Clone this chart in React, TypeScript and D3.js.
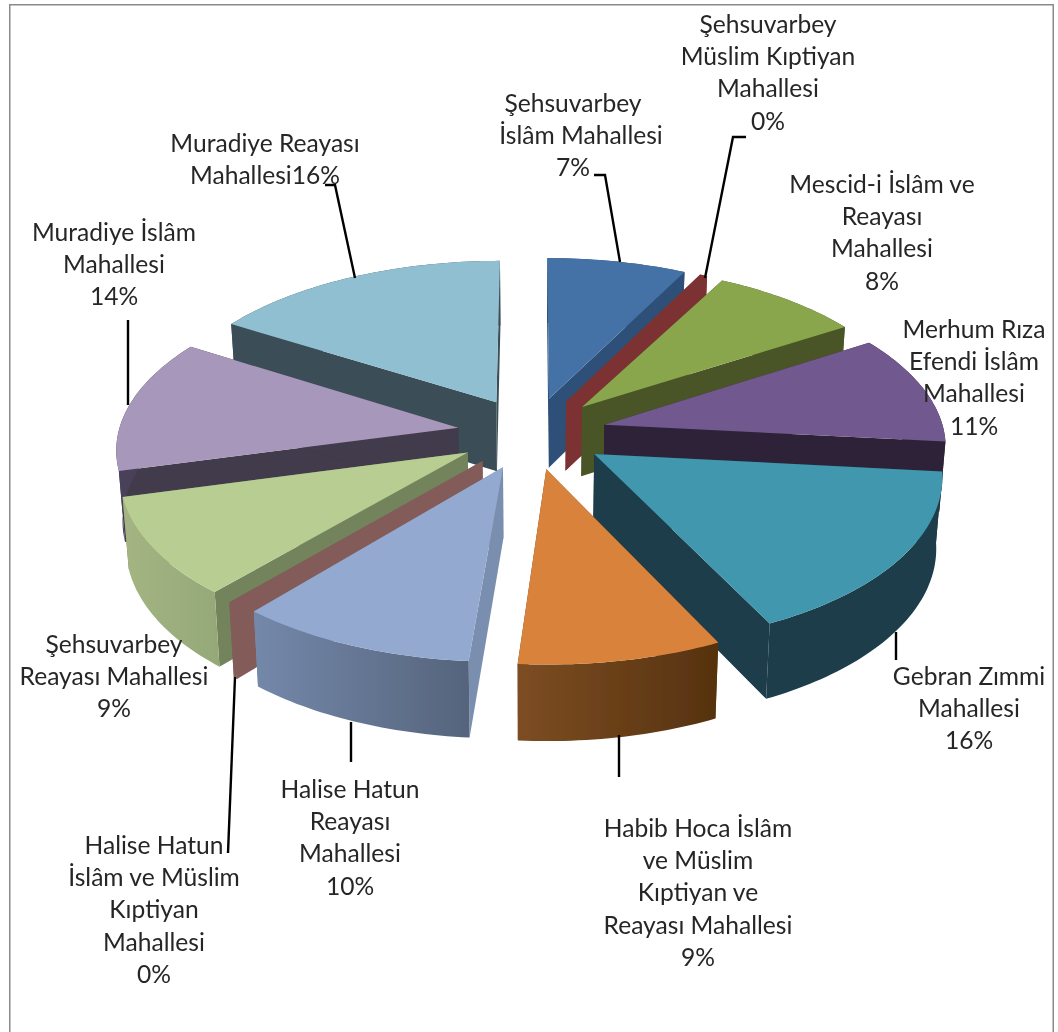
import React from "react";
import * as d3 from "d3";

const W = 1058, H = 1032;

// data
const names = ["Şehsuvarbey İslâm", "Şehsuvarbey Müslim Kıptiyan", "Mescid-i İslâm ve Reayası", "Merhum Rıza Efendi İslâm", "Gebran Zımmi", "Habib Hoca", "Halise Hatun Reayası", "Halise Hatun İslâm", "Şehsuvarbey Reayası", "Muradiye İslâm", "Muradiye Reayası"];
const values = [7.6, 0.4, 8.2, 10.8, 16.4, 8.55, 10.05, 0.2, 9.65, 13.15, 16.4];

const topColors = ["#4472a6", "#7b3331", "#8aa64e", "#71588f", "#3f97ae", "#d9823b", "#93a9cf", "#835c5a", "#b7cd91", "#a797bb", "#91bfd2"];
const radialColors = ["#2f5078", "#7b3331", "#4a5527", "#2e2338", "#1a3c48", "#6a3f1a", "#7a8fb0", "#835c5a", "#73835b", "#433a4c", "#3a4e56"];
const outerFrom = ["#2f5078", "#7b3331", "#4a5527", "#2e2338", "#1a3c48", "#7d4d22", "#7488aa", "#835c5a", "#a4b583", "#4a3f5a", "#3a4e56"];
const outerTo = ["#2f5078", "#7b3331", "#4a5527", "#2e2338", "#1a3c48", "#55320f", "#55647c", "#835c5a", "#95a878", "#4a3f5a", "#3a4e56"];

const labelLines = [
  ["Şehsuvarbey", "İslâm Mahallesi", "7%"],
  ["Şehsuvarbey", "Müslim Kıptiyan", "Mahallesi", "0%"],
  ["Mescid-i İslâm ve", "Reayası", "Mahallesi", "8%"],
  ["Merhum Rıza", "Efendi İslâm", "Mahallesi", "11%"],
  ["Gebran Zımmi", "Mahallesi", "16%"],
  ["Habib Hoca İslâm", "ve Müslim", "Kıptiyan ve", "Reayası Mahallesi", "9%"],
  ["Halise Hatun", "Reayası", "Mahallesi", "10%"],
  ["Halise Hatun", "İslâm ve Müslim", "Kıptiyan", "Mahallesi", "0%"],
  ["Şehsuvarbey", "Reayası Mahallesi", "9%"],
  ["Muradiye İslâm", "Mahallesi", "14%"],
  ["Muradiye Reayası", "Mahallesi16%"],
];
const labelCx = [573, 768, 882, 974, 969, 698, 350, 154, 114, 114, 265];
const labelTop = [112, 33, 193, 338, 685, 837, 798, 854, 653, 241, 152];
const lineStep = 32.2;
const shiftedLine = { label: 0, line: 1, dx: 8 };

const leaders: [number, number][][] = [
  [[594, 175], [605, 175], [620, 262]],
  [[746, 137], [733, 137], [705, 278]],
  [[896, 632], [896, 660]],
  [[619, 735], [619, 777]],
  [[351, 722], [351, 762]],
  [[235, 677], [228, 853]],
  [[128, 320], [128, 405]],
  [[325, 185], [335, 185], [355, 278]],
];

// projection parameters
const cx = 532, cy = 433, R = 340, T = 164, K = 0.114, K2 = 0.07, DEPTH = 70, EXPL = 0.22, SHRINK = 0.985;

function project(X: number, Y: number, bottom: boolean): [number, number] {
  const s = 1 / (1 + K * Y);
  const x = R * X * s, y = -T * Y * s;
  if (!bottom) return [cx + x, cy + y];
  return [cx + x * SHRINK, cy + y + DEPTH / (1 + K2 * Y)];
}

const pieGen = d3.pie<number>().sort(null).startAngle(0).endAngle(2 * Math.PI);
const arcs = pieGen(values);
const lineGen = d3.line<[number, number]>().curve(d3.curveLinear);

function geometry(a0: number, a1: number) {
  const mid = (a0 + a1) / 2;
  const ox = EXPL * Math.sin(mid), oy = EXPL * Math.cos(mid);
  const n = Math.max(4, Math.ceil((a1 - a0) / 0.02));
  const angles = d3.range(n + 1).map((i) => a0 + ((a1 - a0) * i) / n);
  const rim = (bottom: boolean) => angles.map((t) => project(ox + Math.sin(t), oy + Math.cos(t), bottom));
  return { depthKey: oy + 0.6 * Math.cos(mid), apexT: project(ox, oy, false), apexB: project(ox, oy, true), rimT: rim(false), rimB: rim(true) };
}

const slices = arcs
  .map((d, i) => ({ i, ...geometry(d.startAngle, d.endAngle) }))
  .sort((a, b) => b.depthKey - a.depthKey);

const FONT = "Lato, Carlito, sans-serif";

export default function App() {
  return (
    <svg width={W} height={H} viewBox={`0 0 ${W} ${H}`} style={{ position: "absolute", left: 0, top: 0, background: "#fff" }}>
      <defs>
        {values.map((_, i) => (
          <linearGradient key={i} id={`wall${i}`} x1="0" x2="1" y1="0" y2="0">
            <stop offset="0" stopColor={outerFrom[i]} />
            <stop offset="1" stopColor={outerTo[i]} />
          </linearGradient>
        ))}
        <filter id="soft" x="0" y="0" width="100%" height="100%">
          <feGaussianBlur stdDeviation="0.45" />
        </filter>
      </defs>
      <g filter="url(#soft)">
        <path d={`M9,${H + 5} L9,4 L1054,4 L1054,${H + 5}`} fill="none" stroke="#8a8a8a" strokeWidth={3} />
        {slices.map((s) => (
          <g key={s.i} data-name={names[s.i]}>
            <path d={lineGen([s.apexT, s.rimT[0], s.rimB[0], s.apexB])! + "Z"} fill={radialColors[s.i]} />
            <path d={lineGen([s.apexT, s.rimT[s.rimT.length - 1], s.rimB[s.rimB.length - 1], s.apexB])! + "Z"} fill={radialColors[s.i]} />
            <path d={lineGen([...s.rimT, ...[...s.rimB].reverse()])! + "Z"} fill={`url(#wall${s.i})`} />
            <path d={lineGen([s.apexT, ...s.rimT])! + "Z"} fill={topColors[s.i]} />
          </g>
        ))}
        {leaders.map((pts, i) => (
          <path key={i} d={lineGen(pts)!} fill="none" stroke="#000" strokeWidth={2.4} />
        ))}
        {labelLines.map((lines, i) => (
          <text key={i} textAnchor="middle" fontFamily={FONT} fontSize={24.6} fill="#262626">
            {lines.map((t, j) => (
              <tspan key={j} x={labelCx[i] + (i === shiftedLine.label && j === shiftedLine.line ? shiftedLine.dx : 0)} y={labelTop[i] + j * lineStep}>{t}</tspan>
            ))}
          </text>
        ))}
      </g>
    </svg>
  );
}
